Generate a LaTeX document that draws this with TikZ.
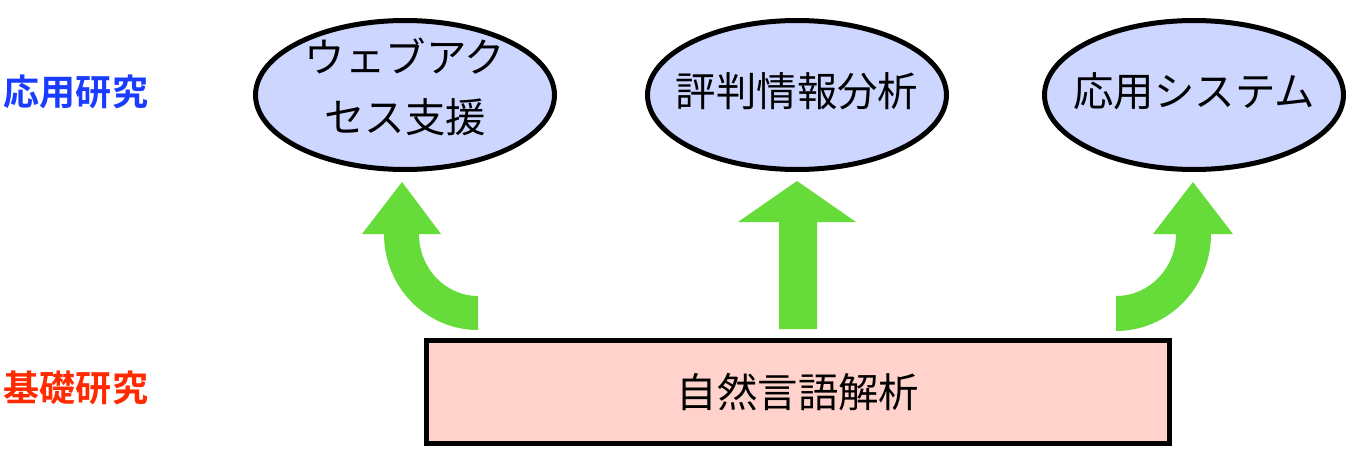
\documentclass[tikz,border=0pt]{standalone}
\usepackage{fontspec}
\setmainfont{Noto Sans CJK JP}[BoldFont={Noto Sans CJK JP Bold}]
\usepackage{tikz}
\usetikzlibrary{shapes.geometric,arrows.meta,positioning,calc}
\usepackage{xcolor}
\definecolor{ovalfill}{HTML}{CCD6FF}
\definecolor{boxfill}{HTML}{FFD3CC}
\definecolor{arrowgreen}{HTML}{66DC3A}
\definecolor{applblue}{HTML}{1A3CFF}
\definecolor{basered}{HTML}{FF2A00}

\begin{document}
\begin{tikzpicture}[x=0.02cm, y=-0.02cm,
  goal/.style={ellipse, draw=black, line width=0.1cm, fill=ovalfill, inner sep=0pt,
    minimum width=5.98cm, minimum height=2.98cm},
  goaltext/.style={align=center, inner sep=0pt, font=\fontsize{23}{34.2}\selectfont},
  basebox/.style={rectangle, draw=black, line width=0.1cm, fill=boxfill,
    minimum width=14.86cm, minimum height=2.06cm, font=\fontsize{23}{34}\selectfont},
  tier/.style={font=\bfseries\fontsize{20.5}{24}\selectfont},
  blockarrow/.style={fill=arrowgreen}]
  \useasboundingbox (0,0) rectangle (1350,450);

  % Tier labels
  \node[tier, applblue] (applied) at (76,92) {応用研究};
  \node[tier, basered] (basic) at (76,388) {基礎研究};

  % Applications (ellipses)
  \foreach \x/\y/\n/\t in {405/87/web/{ウェブアク\\セス支援}, 797/91/rep/{評判情報分析}, 1194/91/app/{応用システム}} {
    \node[goal] (\n) at (\x,95) {};
    \node[goaltext] (\n-text) at (\x,\y) {\t};
  }

  % Base (rectangle)
  \node[basebox] (nlp) at (798,392) {自然言語解析};

  % Left arrow (curved)
  \fill[blockarrow] (478,330) arc[start angle=90, end angle=180, x radius=94, y radius=96]
    -- (362,234) -- (402,182) -- (441,234) -- (419,234)
    arc[start angle=180, end angle=90, x radius=59, y radius=62] -- cycle;

  % Middle arrow (straight)
  \fill[blockarrow] (779,329) -- (779,222) -- (738,222) -- (797,181)
    -- (856,222) -- (817,222) -- (817,329) -- cycle;

  % Right arrow (curved)
  \fill[blockarrow] (1116,331) arc[start angle=90, end angle=0, x radius=95, y radius=97]
    -- (1233,234) -- (1193,182) -- (1153,234) -- (1176,234)
    arc[start angle=0, end angle=90, x radius=60, y radius=62] -- cycle;
\end{tikzpicture}
\end{document}
